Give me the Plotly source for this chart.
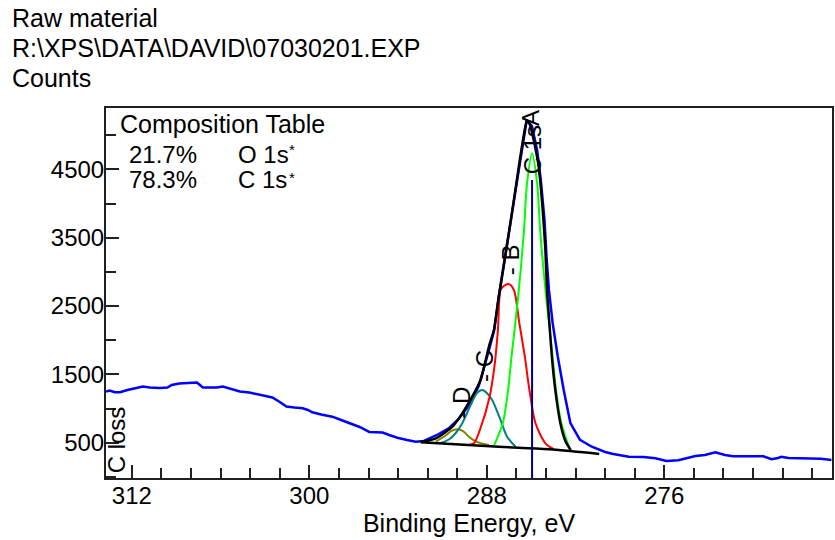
import plotly.graph_objects as go

# ---------------- data ----------------
# raw spectrum (blue)
raw_be = [313.75, 313.5, 313.15, 312.8, 312.3, 311.7, 311.25, 310.8, 310.1, 309.6,
          309.3, 308.8, 308.1, 307.6, 307.2, 306.75, 306.25, 305.85, 305.25, 304.7,
          304.05, 303.55, 303.05, 302.5, 302.0, 301.55, 301.0, 300.45, 300.1, 299.8,
          299.2, 298.45, 297.85, 297.3, 296.6, 295.95, 295.05, 294.6, 294.05, 293.4,
          292.8, 292.25, 291.7, 291.25, 290.55, 289.9, 289.2, 288.55, 287.85, 287.5,
          287.2, 286.6, 286.15, 285.75, 285.5, 285.3, 284.95, 284.6, 284.35, 284.1,
          283.95, 283.8, 283.55, 283.2, 282.8, 282.35, 281.7, 280.9, 280.0, 279.45,
          278.4, 277.4, 276.6, 275.85, 275.05, 274.4, 273.9, 273.25, 272.55, 271.9,
          271.35, 269.3, 268.75, 268.3, 268.1, 267.6, 266.95, 265.4, 264.7]
raw_counts = [1247, 1264, 1238, 1238, 1272, 1301, 1323, 1308, 1301, 1308,
              1345, 1367, 1374, 1381, 1308, 1308, 1308, 1323, 1279, 1250,
              1235, 1213, 1184, 1162, 1096, 1030, 1015, 1004, 979, 945,
              913, 881, 832, 784, 730, 657, 649, 613, 573, 540,
              515, 525, 583, 627, 715, 847, 1052, 1330, 1857, 2150,
              2633, 3468, 4054, 4639, 5005, 5224, 5136, 4785, 4346, 3760,
              3175, 2736, 2253, 1759, 1272, 788, 540, 441, 364, 335,
              295, 291, 272, 232, 242, 276, 305, 320, 359, 320,
              301, 301, 257, 276, 295, 276, 276, 266, 247]

# fitted envelope (black)
env_be = [292.47, 291.45, 290.33, 289.66, 288.99, 288.42, 287.86, 287.52, 287.19, 286.58,
          286.17, 285.77, 285.5, 285.3, 285.1, 284.76, 284.49, 284.22, 284.04, 283.93,
          283.77, 283.6, 283.37, 283.03, 282.69, 282.33]
env_counts = [510, 564, 734, 930, 1173, 1418, 1905, 2150, 2633, 3466,
              4052, 4638, 5003, 5208, 5164, 4857, 4535, 3906, 3321, 2736,
              2252, 1755, 1272, 788, 525, 393]

# background (black)
bg_be = [292.47, 287.2, 283.8, 280.4]
bg_counts = [505, 441, 403, 335]

# component A (green)
a_be = [287.5, 286.92, 286.56, 286.33, 285.88, 285.5, 285.28, 284.94, 284.6, 284.38,
        283.99, 283.55, 283.32, 282.96, 282.38]
a_counts = [466, 784, 1272, 1759, 2635, 3567, 4299, 4739, 4299, 3567,
            2635, 1759, 1272, 784, 400]

# component B (red)
b_be = [289.21, 288.87, 288.47, 287.81, 287.46, 287.25, 287.07, 286.85, 286.52, 286.17,
        285.8, 285.43, 285.12, 284.71, 284.04, 283.5]
b_counts = [466, 491, 686, 1173, 1662, 2150, 2736, 2794, 2823, 2736,
            2248, 1759, 1272, 784, 491, 410]

# component C (teal)
c_be = [291.23, 290.56, 290.11, 289.66, 288.99, 288.67, 288.31, 288.0, 287.64, 287.07,
        286.63, 286.06]
c_counts = [488, 547, 638, 784, 1100, 1228, 1272, 1228, 1125, 832, 588, 441]

# component D (olive)
d_be = [291.45, 290.78, 290.42, 290.0, 289.61, 289.21, 288.8, 288.42, 287.86]
d_counts = [515, 605, 671, 696, 671, 588, 525, 491, 466]

# C 1s position marker (navy vertical line)
marker_be = [284.94, 284.94]
marker_counts = [-17, 4346]

# axis ranges
x_range = [313.75, 264.66]
y_range = [-17, 5400]

# texts
header_lines = ["Raw material", "R:\\XPS\\DATA\\DAVID\\07030201.EXP", "Counts"]
comp_pct = ["21.7%", "78.3%"]
comp_names = ["O 1s", "C 1s"]

FONT = "Liberation Sans, Arial, sans-serif"
FS = 24
FS_T = 25

fig = go.Figure()

fig.add_trace(go.Scatter(x=raw_be, y=raw_counts, mode="lines",
                         line=dict(color="#0000FF", width=2.5), hoverinfo="skip"))
for be, ct, col in [(d_be, d_counts, "#808000"), (c_be, c_counts, "#008080"),
                    (b_be, b_counts, "#FF0000"), (a_be, a_counts, "#00FF00")]:
    fig.add_trace(go.Scatter(x=be, y=ct, mode="lines",
                             line=dict(color=col, width=2, shape="spline", smoothing=0.8),
                             hoverinfo="skip"))
fig.add_trace(go.Scatter(x=bg_be, y=bg_counts, mode="lines",
                         line=dict(color="black", width=2.5, shape="spline"), hoverinfo="skip"))
fig.add_trace(go.Scatter(x=env_be, y=env_counts, mode="lines",
                         line=dict(color="black", width=2.5, shape="spline", smoothing=0.6),
                         hoverinfo="skip"))
fig.add_trace(go.Scatter(x=marker_be, y=marker_counts, mode="lines",
                         line=dict(color="#000080", width=2), hoverinfo="skip"))

axis_common = dict(
    showline=True, linecolor="#202020", linewidth=2, mirror=True,
    showgrid=False, zeroline=False,
    ticks="inside", ticklen=13, tickwidth=1.5, tickcolor="#202020",
    tickfont=dict(family=FONT, size=FS, color="black"),
    ticklabelstandoff=-5,
)

fig.update_xaxes(range=x_range, tickmode="linear", tick0=0, dtick=12,
                 minor=dict(dtick=2, ticks="inside", ticklen=10, tickwidth=1.5, tickcolor="#202020"),
                 title=dict(text="Binding Energy, eV", font=dict(family=FONT, size=FS_T, color="black"),
                            standoff=2),
                 **axis_common)
fig.update_yaxes(range=y_range, tickmode="linear", tick0=500, dtick=1000,
                 minor=dict(dtick=500, ticks="inside", ticklen=10, tickwidth=1.5, tickcolor="#202020"),
                 **axis_common)

ann = []
for i, t in enumerate(header_lines):
    ann.append(dict(text=t, xref="paper", yref="paper", x=-0.1319, y=[1.2432, 1.1622, 1.0811][i],
                    xanchor="left", yanchor="middle", showarrow=False,
                    font=dict(family=FONT, size=FS_T, color="black")))
ann.append(dict(text="Composition Table", xref="paper", yref="paper", x=0.0165, y=0.957,
                xanchor="left", yanchor="middle", showarrow=False,
                font=dict(family=FONT, size=FS_T, color="black")))
for i in range(2):
    yy = [0.873, 0.806][i]
    ann.append(dict(text=comp_pct[i], xref="paper", yref="paper", x=0.0302, y=yy,
                    xanchor="left", yanchor="middle", showarrow=False, borderpad=0,
                    font=dict(family=FONT, size=FS, color="black")))
    ann.append(dict(text=comp_names[i], xref="paper", yref="paper", x=0.181, y=yy,
                    xanchor="left", yanchor="middle", showarrow=False, borderpad=0,
                    font=dict(family=FONT, size=FS, color="black")))
    ann.append(dict(text="*", xref="paper", yref="paper", x=0.2505, y=[0.888, 0.812][i],
                    xanchor="left", yanchor="middle", showarrow=False, borderpad=0,
                    font=dict(family=FONT, size=15, color="black")))
# rotated labels
for txt, x, y in [("C 1s", 284.89, 4792), ("A", 285.1, 5251), ("- B", 286.38, 3182),
                  ("- C", 288.13, 1623), ("- D", 289.77, 1081), ("C loss", 312.98, 540)]:
    ann.append(dict(text=txt, x=x, y=y, xref="x", yref="y", textangle=-90, showarrow=False,
                    xanchor="center", yanchor="middle",
                    font=dict(family=FONT, size=FS, color="black")))

fig.update_layout(
    width=835, height=540, margin=dict(l=106, r=1, t=108, b=62),
    paper_bgcolor="white", plot_bgcolor="white", showlegend=False,
    annotations=ann,
)

fig.write_html("out.html", config={"displayModeBar": False},
               post_script="document.body.style.margin='0';document.body.style.padding='0';")
